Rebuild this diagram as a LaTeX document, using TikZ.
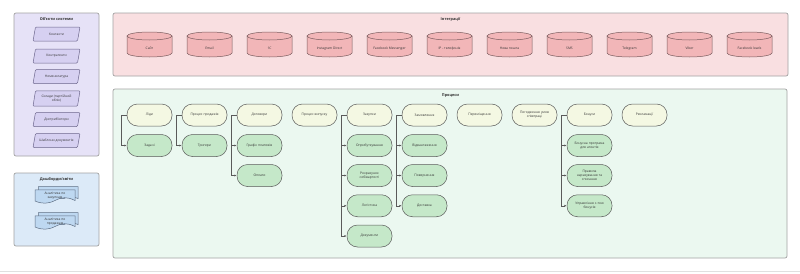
\documentclass[tikz,border=0pt]{standalone}
\usepackage{fontspec}
\setmainfont{Open Sans}
\usetikzlibrary{shapes.geometric,shapes.misc,arrows.meta}
\definecolor{panelline}{HTML}{A3A3A3}
\definecolor{objfill}{HTML}{E6E2F7}
\definecolor{objshape}{HTML}{D6D0F1}
\definecolor{objline}{HTML}{6C668C}
\definecolor{dashfill}{HTML}{DCEAF8}
\definecolor{docfill}{HTML}{BED8F1}
\definecolor{docline}{HTML}{5F6F84}
\definecolor{intfill}{HTML}{F9DFE1}
\definecolor{cylfill}{HTML}{F2B6B8}
\definecolor{cylline}{HTML}{7A5C5E}
\definecolor{procfill}{HTML}{EBF8F0}
\definecolor{parfill}{HTML}{F4F8E3}
\definecolor{chfill}{HTML}{C5E8C9}
\definecolor{nodeline}{HTML}{5A5A5A}
\definecolor{txt}{HTML}{333333}
\tikzset{
  panel/.style={draw=panelline, line width=0.7pt, rounded corners=2pt},
  ptitle/.style={font=\fontsize{3.8}{4.4}\selectfont\bfseries, text=txt},
  small/.style={font=\fontsize{3.3}{4.1}\selectfont, text=txt, align=center, inner sep=0pt},
  objshape/.style={draw=objline, fill=objshape, line width=0.5pt, rounded corners=1pt},
  cylshape/.style={draw=cylline, fill=cylfill, line width=0.5pt},
  docshape/.style={draw=docline, fill=docfill, line width=0.5pt},
  parent/.style={small, draw=nodeline, fill=parfill, line width=0.5pt, rounded corners=10.5pt,
    minimum width=45pt, minimum height=22pt, text width=40pt},
  child/.style={parent, fill=chfill},
  conn/.style={draw=nodeline, line width=0.5pt, -{Latex[length=2.4pt,width=2pt]}},
}
\newcommand{\myparashape}[2]{% center y, half height
  \draw[objshape] (35.5,#1-#2) -- (80,#1-#2) -- (77.5,#1+#2) -- (33,#1+#2) -- cycle;}
\begin{document}
\begin{tikzpicture}[x=1pt,y=-1pt]
\useasboundingbox (0,0) rectangle (800,273);
\fill[white] (0,0) rectangle (800,273);
\draw[black!12, line width=0.6pt] (0,271.5) -- (800,271.5);

% ---------- Objects panel
\draw[panel, fill=objfill] (14,13) rectangle (99,156);
\node[ptitle] (objtitle) at (56.5,19.5) {Об'єкти системи};
\myparashape{34}{7}
\myparashape{56}{7}
\myparashape{76.5}{7}
\myparashape{98.5}{7.7}
\myparashape{119.5}{7}
\myparashape{140.5}{7}
\node[small] (o1) at (56.5,34) {Контакти};
\node[small] (o2) at (56.5,56) {Контрагенти};
\node[small] (o3) at (56.5,76.5) {Номенклатура};
\node[small] (o4) at (56.5,98.5) {Склади (партійний\\облік)};
\node[small] (o5) at (56.5,119.5) {Дистриб'ютори};
\node[small] (o6) at (56.5,140.5) {Шаблони документів};

% ---------- Dashboards panel
\draw[panel, fill=dashfill] (14,173) rectangle (99,246);
\node[ptitle] (dashtitle) at (56.5,179.5) {Дашборди/звіти};
\foreach \dy in {0,26}{
  \begin{scope}[yshift=-\dy pt]
  \draw[docshape] (38.3,186.7) -- (78,186.7) -- (78,198.5)
     .. controls (72,196) and (68,196) .. (64,198.5) -- (38.3,198.5) -- cycle;
  \draw[docshape] (35,189.8) -- (75,189.8) -- (75,200.5)
     .. controls (67,196.5) and (62,197) .. (55,200.5)
     .. controls (48,204) and (42,204) .. (35,201) -- cycle;
  \end{scope}
}
\node[small] (d1) at (55,195.7) {Аналітика по\\закупкам};
\node[small] (d2) at (55,221.7) {Аналітика по\\продажам};

% ---------- Integrations panel
\draw[panel, fill=intfill] (113,13) rectangle (788,76);
\node[ptitle] (inttitle) at (450.5,19.5) {Інтеграції};
\foreach \t [count=\i from 0] in {Сайт,Email,1С,Instagram Direct,Facebook Messenger,
   IP - телефонія,Нова пошта,SMS,Telegram,Viber,Facebook leads}{
  \pgfmathsetmacro{\cx}{149.5+60*\i}
  \draw[cylshape] (\cx-22.5,36) -- (\cx-22.5,53)
      arc[start angle=180, end angle=0, x radius=22.5, y radius=4]
      -- (\cx+22.5,36) -- cycle;
  \draw[cylshape] (\cx,36) ellipse[x radius=22.5, y radius=4];
  \node[small] (int\i) at (\cx,48.5) {\t};
}

% ---------- Processes panel
\draw[panel, fill=procfill] (113,89) rectangle (787,258);
\node[ptitle] (proctitle) at (450.5,95.5) {Процеси};

\node[parent] (p0) at (149.5,115) {Ліди};
\node[child]  (c00) at (149.5,145.5) {Задачі};

\node[parent] (p1) at (204.5,115) {Процес продажів};
\node[child]  (c10) at (204.5,145.5) {Тригери};

\node[parent] (p2) at (259.5,115) {Договори};
\node[child]  (c20) at (259.5,145.5) {Графік платежів};
\node[child]  (c21) at (259.5,175.5) {Оплати};

\node[parent] (p3) at (314.5,115) {Процес випуску};

\node[parent] (p4) at (369.5,115) {Закупки};
\node[child]  (c40) at (369.5,145.5) {Оприбуткування};
\node[child]  (c41) at (369.5,175.5) {Розрахунок\\собівартості};
\node[child]  (c42) at (369.5,205.75) {Логістика};
\node[child]  (c43) at (369.5,236) {Документи};

\node[parent] (p5) at (424.5,115) {Замовлення};
\node[child]  (c50) at (424.5,145.5) {Відвантаження};
\node[child]  (c51) at (424.5,175.5) {Повернення};
\node[child]  (c52) at (424.5,205.75) {Доставка};

\node[parent] (p6) at (479.5,115) {Переміщення};
\node[parent] (p7) at (534.5,115) {Погодження умов\\співпраці};

\node[parent] (p8) at (589.5,115) {Бонуси};
\node[child]  (c80) at (589.5,145.5) {Бонусна програма\\для агентів};
\node[child]  (c81) at (589.5,175.5) {Правила\\нарахування та\\списання};
\node[child]  (c82) at (589.5,205.75) {Управління с-тою\\бонусів};

\node[parent] (p9) at (644.5,115) {Рекламації};

\foreach \p/\c in {p0/c00,p1/c10,p2/c20,p2/c21,p4/c40,p4/c41,p4/c42,p4/c43,
                   p5/c50,p5/c51,p5/c52,p8/c80,p8/c81,p8/c82}{
  \draw[conn] (\p.west) -- ++(-5.5,0) |- (\c.west);
}
\end{tikzpicture}
\end{document}
